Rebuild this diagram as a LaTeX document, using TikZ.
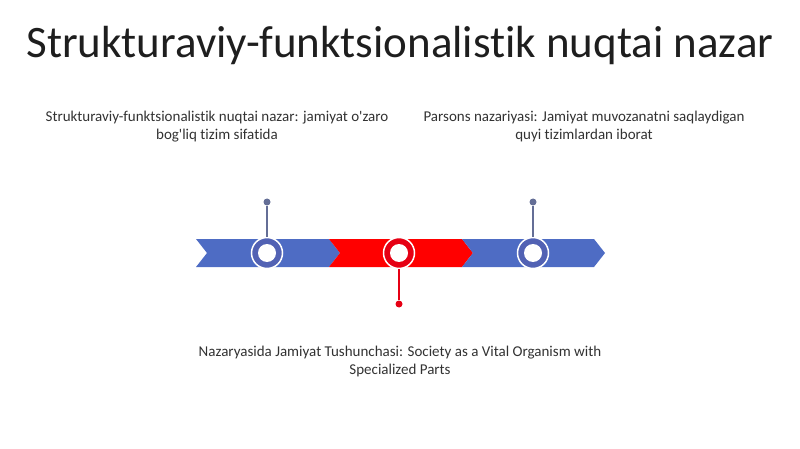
\documentclass[tikz,border=0pt]{standalone}
\usepackage{fontspec}
\setmainfont{Carlito}[Ligatures={NoCommon,TeXOff}]
\definecolor{segblue}{RGB}{78,108,196}
\definecolor{segred}{RGB}{255,0,0}
\definecolor{ringblue}{RGB}{82,98,180}
\definecolor{ringred}{RGB}{230,0,20}
\definecolor{stemgray}{RGB}{100,110,150}
\definecolor{txt}{RGB}{50,50,50}
\definecolor{ttl}{RGB}{30,30,30}
\begin{document}
\begin{tikzpicture}[x=1pt,y=-1pt,
  bluec/.style={fill=segblue},
  redc/.style={fill=segred},
  ringb/.style={circle,draw=white,line width=1.5pt,fill=ringblue,minimum size=31pt,inner sep=0pt},
  ringr/.style={circle,draw=white,line width=1.5pt,fill=ringred,minimum size=31pt,inner sep=0pt},
  hole/.style={circle,fill=white,minimum size=18pt,inner sep=0pt},
  dotb/.style={circle,fill=stemgray,minimum size=7pt,inner sep=0pt},
  dotr/.style={circle,fill=ringred,minimum size=7pt,inner sep=0pt},
  body/.style={font=\fontsize{15}{18}\selectfont,align=center,text=txt}
]
\useasboundingbox (0,0) rectangle (800,449);
\node[font=\fontsize{45}{52}\selectfont,text=ttl] (title) at (400,46) {Strukturaviy-funktsionalistik nuqtai nazar};
% chevrons
\path[bluec] (196,239) -- (329,239) -- (340,253) -- (329,267) -- (196,267) -- (207,253) -- cycle;
\path[redc] (329,239) -- (462,239) -- (473,253) -- (462,267) -- (329,267) -- (340,253) -- cycle;
\path[bluec] (462,239) -- (594,239) -- (605,253) -- (594,267) -- (462,267) -- (473,253) -- cycle;
% stems
\node[dotb] (d1) at (267,202) {};
\node[dotr] (d2) at (399,304) {};
\node[dotb] (d3) at (533,202) {};
\node[ringb] (c1) at (267,253) {};
\node[ringr] (c2) at (399,253) {};
\node[ringb] (c3) at (533,253) {};
\draw[line width=1.5pt,stemgray] (d1) -- (c1);
\draw[line width=1.5pt,ringred] (d2) -- (c2);
\draw[line width=1.5pt,stemgray] (d3) -- (c3);
\node[hole] at (c1) {};
\node[hole] at (c2) {};
\node[hole] at (c3) {};
% texts
\node[body] (t1) at (217,127) {Strukturaviy-funktsionalistik nuqtai nazar: jamiyat o'zaro\\bog'liq tizim sifatida};
\node[body] (t2) at (584,127) {Parsons nazariyasi: Jamiyat muvozanatni saqlaydigan\\quyi tizimlardan iborat};
\node[body] (t3) at (400,361) {Nazaryasida Jamiyat Tushunchasi: Society as a Vital Organism with\\Specialized Parts};
\end{tikzpicture}
\end{document}
